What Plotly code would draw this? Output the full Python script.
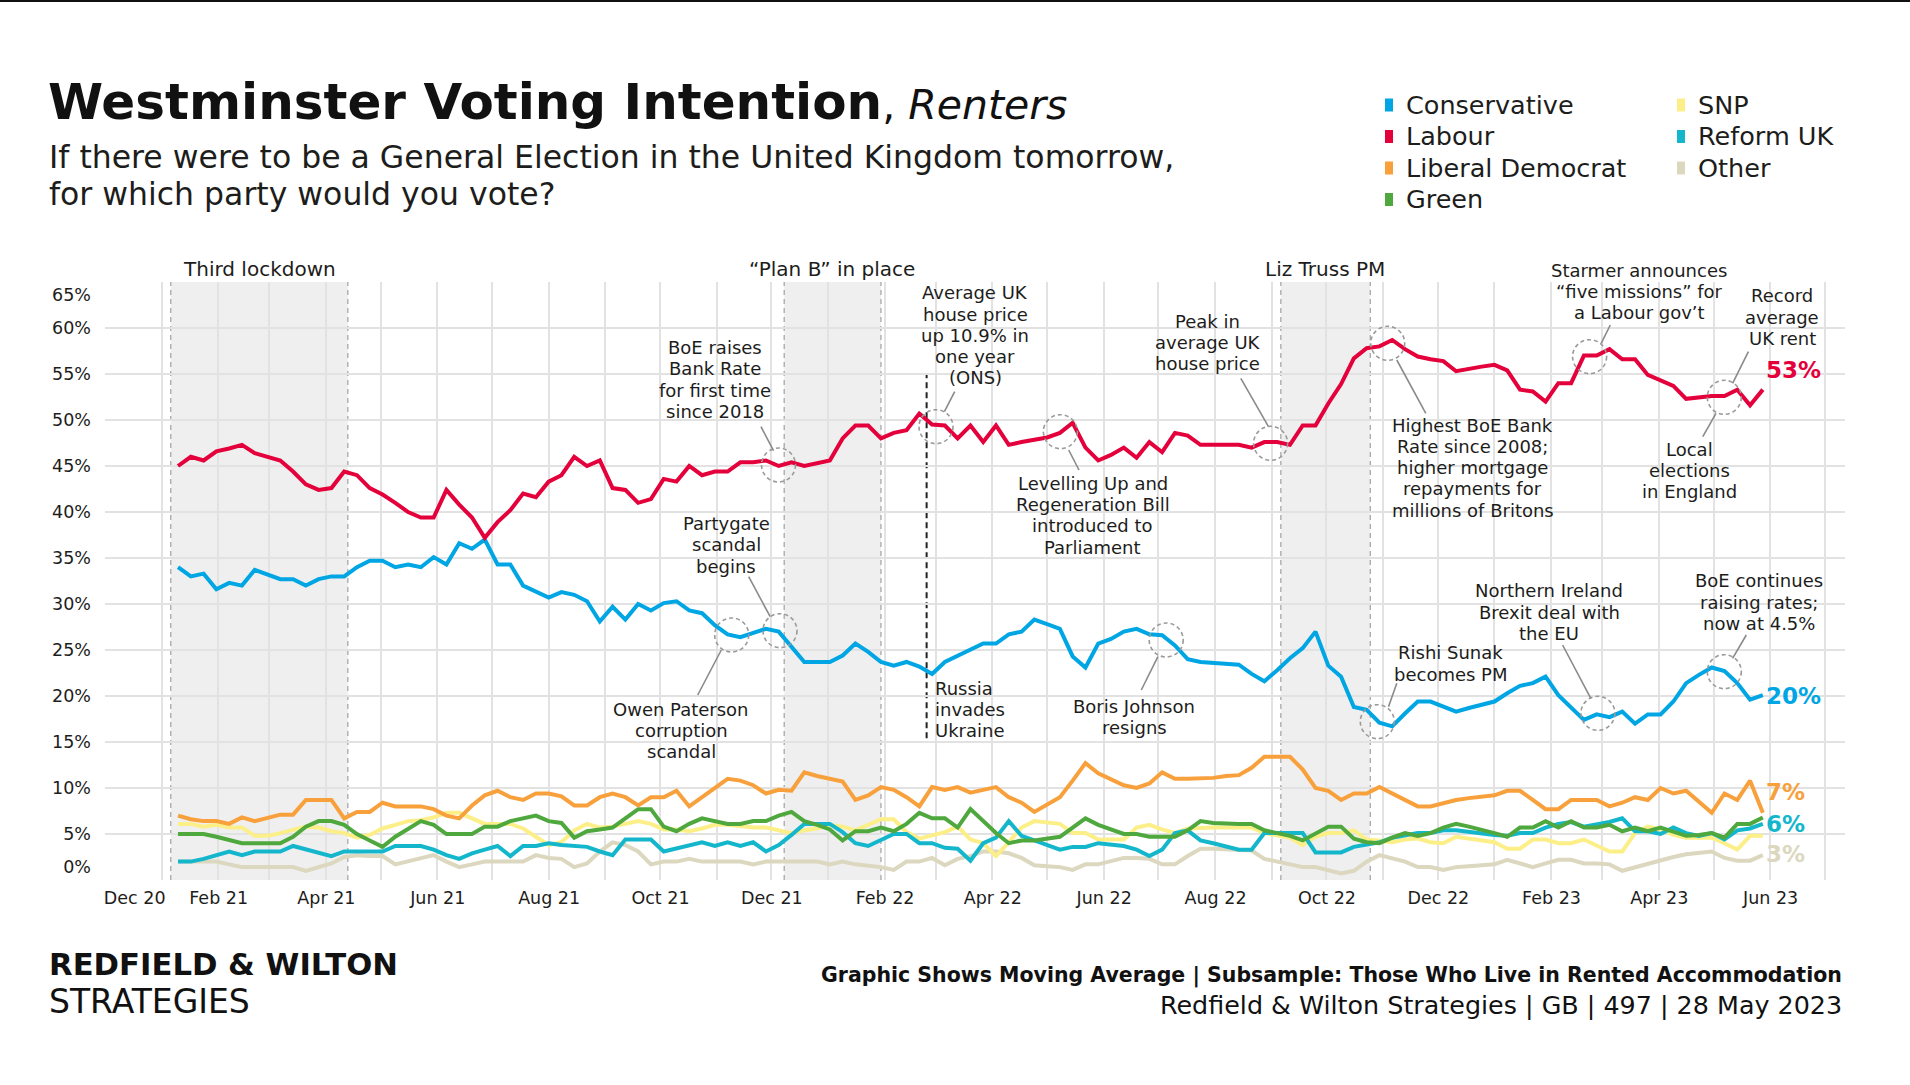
import plotly.graph_objects as go

FONT = "DejaVu Sans"
TXT = "#1d1d1b"
GRID = "#e2e2e2"

# ---------------- data (weekly moving average, %) ----------------
dates = [
    "2021-01-10", "2021-01-17", "2021-01-24", "2021-01-31", "2021-02-07", "2021-02-14", "2021-02-21", "2021-02-28",
    "2021-03-07", "2021-03-14", "2021-03-21", "2021-03-28", "2021-04-04", "2021-04-11", "2021-04-18", "2021-04-25",
    "2021-05-02", "2021-05-09", "2021-05-16", "2021-05-23", "2021-05-30", "2021-06-06", "2021-06-13", "2021-06-20",
    "2021-06-27", "2021-07-04", "2021-07-11", "2021-07-18", "2021-07-25", "2021-08-01", "2021-08-08", "2021-08-15",
    "2021-08-22", "2021-08-29", "2021-09-05", "2021-09-12", "2021-09-19", "2021-09-26", "2021-10-03", "2021-10-10",
    "2021-10-17", "2021-10-24", "2021-10-31", "2021-11-07", "2021-11-14", "2021-11-21", "2021-11-28", "2021-12-05",
    "2021-12-12", "2021-12-19", "2021-12-26",
    "2022-01-02", "2022-01-09", "2022-01-16", "2022-01-23", "2022-01-30", "2022-02-06", "2022-02-13", "2022-02-20",
    "2022-02-27", "2022-03-06", "2022-03-13", "2022-03-20", "2022-03-27", "2022-04-03", "2022-04-10", "2022-04-17",
    "2022-04-24", "2022-05-01", "2022-05-08", "2022-05-15", "2022-05-22", "2022-05-29", "2022-06-05", "2022-06-12",
    "2022-06-19", "2022-06-26", "2022-07-03", "2022-07-10", "2022-07-17", "2022-07-24", "2022-07-31", "2022-08-07",
    "2022-08-14", "2022-08-21", "2022-08-28", "2022-09-04", "2022-09-11", "2022-09-18", "2022-09-25", "2022-10-02",
    "2022-10-09", "2022-10-16", "2022-10-23", "2022-10-30", "2022-11-06", "2022-11-13", "2022-11-20", "2022-11-27",
    "2022-12-04", "2022-12-11", "2022-12-18", "2022-12-25",
    "2023-01-01", "2023-01-08", "2023-01-15", "2023-01-22", "2023-01-29", "2023-02-05", "2023-02-12", "2023-02-19",
    "2023-02-26", "2023-03-05", "2023-03-12", "2023-03-19", "2023-03-26", "2023-04-02", "2023-04-09", "2023-04-16",
    "2023-04-23", "2023-04-30", "2023-05-07", "2023-05-14", "2023-05-21", "2023-05-28",
]

labour = [
    45.0, 46.0, 45.6, 46.6, 46.9, 47.3, 46.4, 46.0, 45.6, 44.4,
    43.0, 42.4, 42.6, 44.4, 44.0, 42.6, 41.9, 41.0, 40.0, 39.4,
    39.4, 42.4, 40.8, 39.4, 37.2, 38.9, 40.2, 42.0, 41.6, 43.3,
    44.0, 46.0, 45.0, 45.6, 42.6, 42.4, 41.0, 41.4, 43.6, 43.3,
    45.0, 44.0, 44.4, 44.4, 45.4, 45.4, 45.6, 45.0, 45.4, 45.0,
    45.3, 45.6, 48.0, 49.4, 49.4, 48.0, 48.6, 48.9, 50.7, 49.5,
    49.4, 48.0, 49.4, 47.6, 49.4, 47.3, 47.6, 47.8, 48.1, 48.6,
    49.7, 47.0, 45.6, 46.2, 47.0, 45.9, 47.6, 46.5, 48.6, 48.3,
    47.3, 47.3, 47.3, 47.3, 47.0, 47.6, 47.6, 47.3, 49.4, 49.4,
    51.8, 53.9, 56.7, 57.8, 58.0, 58.7, 57.7, 56.9, 56.6, 56.4,
    55.3, 55.6, 55.8, 56.0, 55.4, 53.3, 53.1, 52.0, 54.0, 54.0,
    57.0, 57.0, 57.7, 56.6, 56.6, 54.9, 54.3, 53.7, 52.3, 52.5,
    52.6, 52.6, 53.3, 51.6, 53.3,
]

conservative = [
    34.0, 33.0, 33.3, 31.6, 32.3, 32.0, 33.7, 33.2, 32.7, 32.7,
    32.0, 32.7, 33.0, 33.0, 34.0, 34.7, 34.7, 34.0, 34.3, 34.0,
    35.1, 34.3, 36.6, 36.0, 37.0, 34.3, 34.3, 32.0, 31.3, 30.7,
    31.3, 31.0, 30.3, 28.1, 29.7, 28.3, 30.0, 29.3, 30.1, 30.3,
    29.3, 29.0, 27.7, 26.7, 26.4, 26.8, 27.3, 27.0, 25.4, 23.7,
    23.7, 23.7, 24.4, 25.7, 24.8, 23.7, 23.3, 23.7, 23.2, 22.4,
    23.7, 24.4, 25.0, 25.7, 25.7, 26.7, 27.0, 28.3, 27.8, 27.3,
    24.3, 23.1, 25.7, 26.2, 27.0, 27.3, 26.7, 26.6, 25.5, 24.0,
    23.7, 23.6, 23.5, 23.4, 22.4, 21.6, 22.8, 24.1, 25.2, 27.0,
    23.3, 22.1, 18.8, 18.5, 17.1, 16.7, 18.1, 19.4, 19.4, 18.8,
    18.3, 18.7, 19.0, 19.4, 20.3, 21.1, 21.4, 22.1, 20.1, 18.8,
    17.4, 18.0, 17.7, 18.3, 17.0, 18.0, 18.0, 19.4, 21.4, 22.3,
    23.1, 22.7, 21.4, 19.6, 20.1,
]

lib_dem = [
    7.0, 6.6, 6.4, 6.4, 6.1, 6.8, 6.4, 6.8, 7.1, 7.1,
    8.7, 8.7, 8.7, 6.7, 7.4, 7.4, 8.4, 8.0, 8.0, 8.0,
    7.7, 7.0, 6.7, 8.1, 9.2, 9.7, 9.0, 8.7, 9.4, 9.4,
    9.1, 8.1, 8.1, 9.0, 9.4, 9.0, 8.1, 9.0, 9.0, 9.7,
    8.0, 9.0, 10.1, 11.0, 10.8, 10.3, 9.4, 9.8, 9.7, 11.7,
    11.3, 11.0, 10.7, 8.7, 9.2, 10.1, 9.8, 9.0, 8.0, 10.1,
    9.8, 10.1, 9.5, 9.8, 10.1, 9.0, 8.4, 7.4, 8.2, 9.0,
    10.8, 12.7, 11.6, 10.9, 10.3, 10.0, 10.5, 11.7, 11.0, 11.0,
    11.0, 11.1, 11.3, 11.4, 12.2, 13.4, 13.4, 13.4, 12.0, 10.0,
    9.7, 8.7, 9.4, 9.4, 10.1, 9.4, 8.7, 8.0, 8.0, 8.4,
    8.7, 8.9, 9.0, 9.2, 9.7, 9.7, 8.7, 7.7, 7.7, 8.7,
    8.7, 8.7, 8.0, 8.4, 9.0, 8.7, 10.0, 9.4, 9.7, 8.5,
    7.3, 9.4, 8.7, 10.8, 7.3,
]

green = [
    5.0, 5.0, 5.0, 4.7, 4.3, 4.0, 4.0, 4.0, 4.0, 4.7,
    5.8, 6.4, 6.4, 6.0, 5.0, 4.3, 3.6, 4.7, 5.5, 6.4,
    6.0, 5.0, 5.0, 5.0, 5.8, 5.8, 6.4, 6.7, 7.0, 6.4,
    6.2, 4.6, 5.3, 5.5, 5.7, 6.7, 7.7, 7.7, 5.8, 5.3,
    6.1, 6.7, 6.4, 6.1, 6.1, 6.4, 6.4, 7.0, 7.4, 6.4,
    6.0, 5.5, 4.3, 5.3, 5.3, 5.7, 5.3, 6.1, 7.3, 6.7,
    6.7, 5.7, 7.7, 6.4, 5.1, 4.0, 4.3, 4.3, 4.5, 4.7,
    5.7, 6.7, 6.0, 5.5, 5.0, 5.0, 4.7, 4.7, 4.7, 5.4,
    6.4, 6.2, 6.1, 6.1, 6.1, 5.4, 5.1, 4.8, 4.3, 5.1,
    5.8, 5.8, 4.5, 4.1, 4.0, 4.6, 5.1, 4.8, 5.1, 5.7,
    6.1, 5.8, 5.5, 5.1, 4.7, 5.7, 5.7, 6.4, 5.7, 6.4,
    5.7, 5.7, 6.0, 5.3, 5.7, 5.3, 5.7, 5.3, 4.8, 4.9,
    5.1, 4.6, 6.1, 6.1, 6.8,
]

snp = [
    6.1, 6.1, 5.8, 6.0, 5.7, 5.7, 4.8, 4.8, 5.1, 5.4,
    5.8, 5.7, 5.3, 5.1, 4.6, 4.9, 5.6, 6.0, 6.4, 6.5,
    6.8, 7.3, 7.3, 6.7, 6.1, 6.1, 6.1, 5.6, 4.7, 3.8,
    4.1, 5.4, 6.1, 5.7, 5.8, 6.1, 6.4, 6.1, 5.5, 5.5,
    5.3, 5.6, 6.0, 6.0, 5.8, 5.7, 5.7, 5.4, 5.1, 5.4,
    5.6, 6.0, 5.8, 5.4, 6.0, 6.6, 6.6, 5.2, 4.5, 4.8,
    5.2, 5.8, 4.4, 4.0, 2.6, 4.1, 5.7, 6.4, 6.3, 6.1,
    5.1, 5.1, 4.4, 4.4, 4.4, 5.7, 6.0, 5.5, 5.1, 5.6,
    5.7, 5.7, 5.7, 5.7, 5.7, 5.1, 4.9, 4.6, 3.8, 4.7,
    5.1, 5.1, 5.4, 4.4, 4.3, 4.1, 4.4, 4.5, 4.1, 4.0,
    4.7, 4.5, 4.4, 4.1, 3.4, 3.4, 4.4, 4.4, 4.0, 4.0,
    4.4, 3.8, 3.1, 3.1, 5.1, 5.8, 5.5, 4.9, 4.6, 4.6,
    4.6, 4.0, 3.3, 4.8, 4.8,
]

reform = [
    2.0, 2.0, 2.3, 2.7, 3.1, 2.7, 3.1, 3.1, 3.1, 3.7,
    3.3, 3.0, 2.6, 3.1, 3.1, 3.1, 3.1, 3.7, 3.7, 3.7,
    3.3, 2.7, 2.3, 2.9, 3.3, 3.7, 2.6, 3.7, 3.7, 4.0,
    3.8, 3.7, 3.6, 3.1, 2.7, 4.4, 4.4, 4.4, 3.1, 3.4,
    3.8, 4.1, 3.7, 4.1, 3.7, 4.1, 3.1, 3.8, 4.9, 6.1,
    6.1, 6.1, 5.2, 4.0, 3.7, 4.3, 5.0, 5.0, 4.0, 4.0,
    3.5, 3.4, 2.1, 4.0, 4.6, 6.4, 4.8, 4.3, 3.8, 3.3,
    3.6, 3.6, 4.0, 3.9, 3.7, 3.3, 2.6, 3.3, 5.1, 5.4,
    4.3, 4.0, 3.6, 3.3, 3.3, 5.1, 5.1, 5.1, 5.1, 3.0,
    3.0, 3.0, 3.6, 3.9, 4.1, 4.6, 4.9, 5.1, 5.1, 5.4,
    5.4, 5.2, 5.1, 4.9, 4.8, 5.1, 5.1, 5.7, 6.1, 6.3,
    5.8, 6.0, 6.3, 6.7, 5.3, 5.3, 5.0, 5.7, 5.1, 4.8,
    5.1, 4.4, 5.4, 5.6, 6.1,
]

other = [
    2.0, 2.0, 2.0, 2.0, 1.7, 1.4, 1.4, 1.4, 1.4, 1.4,
    1.0, 1.4, 1.8, 2.5, 2.7, 2.6, 2.6, 1.7, 2.0, 2.4,
    2.7, 2.0, 1.4, 1.7, 2.0, 2.0, 2.0, 2.0, 2.7, 2.4,
    2.3, 1.4, 1.8, 3.1, 4.1, 3.8, 3.1, 1.7, 2.0, 2.0,
    2.3, 2.0, 2.0, 2.0, 2.0, 1.7, 2.0, 2.0, 2.0, 2.0,
    2.0, 1.7, 2.0, 1.7, 1.6, 1.4, 1.1, 2.0, 2.0, 2.4,
    1.6, 2.3, 2.6, 3.1, 3.1, 2.9, 2.4, 1.6, 1.5, 1.4,
    1.1, 1.7, 1.7, 2.0, 2.4, 2.4, 2.3, 1.7, 1.7, 2.6,
    3.4, 3.4, 3.3, 3.2, 3.2, 2.3, 2.0, 1.7, 1.4, 1.4,
    1.1, 0.7, 1.0, 2.0, 2.7, 2.3, 2.0, 1.4, 1.4, 1.1,
    1.4, 1.5, 1.6, 1.7, 2.2, 1.8, 1.4, 1.8, 2.2, 2.2,
    1.8, 1.8, 1.7, 1.0, 1.4, 1.8, 2.2, 2.5, 2.8, 2.9,
    3.1, 2.4, 2.1, 2.1, 2.7,
]

party_names = ["Conservative", "Labour", "Liberal Democrat", "Green", "SNP", "Reform UK", "Other"]
party_colors = ["#00a6e4", "#e4003b", "#f8a13c", "#4fa83d", "#fcef88", "#14b6cc", "#dcd7bf"]

xtick_dates = ["2020-12-17", "2021-02-01", "2021-04-01", "2021-06-01", "2021-08-01", "2021-10-01",
               "2021-12-01", "2022-02-01", "2022-04-01", "2022-06-01", "2022-08-01", "2022-10-01",
               "2022-12-01", "2023-02-01", "2023-04-01", "2023-06-01"]
xtick_text = ["Dec 20", "Feb 21", "Apr 21", "Jun 21", "Aug 21", "Oct 21", "Dec 21", "Feb 22",
              "Apr 22", "Jun 22", "Aug 22", "Oct 22", "Dec 22", "Feb 23", "Apr 23", "Jun 23"]
ytick_vals = [1.4, 5, 10, 15, 20, 25, 30, 35, 40, 45, 50, 55, 60, 63.6]
ytick_text = ["0%", "5%", "10%", "15%", "20%", "25%", "30%", "35%", "40%", "45%", "50%", "55%", "60%", "65%"]

# shaded periods
periods = [("Third lockdown", "2021-01-06", "2021-04-13"),
           ("\u201cPlan B\u201d in place", "2021-12-08", "2022-01-30"),
           ("Liz Truss PM", "2022-09-06", "2022-10-25")]
russia_date = "2022-02-24"

# ---------------- geometry helpers (pixels -> paper) ----------------
L, T, W, H = 105, 282, 1740, 598
FW, FH = 1910, 1085


def PX(x):
    return (x - L) / W


def PY(y):
    return (T + H - y) / H


fig = go.Figure()

draw_order = ["Other", "SNP", "Reform UK", "Green", "Liberal Democrat", "Conservative", "Labour"]
values = {"Conservative": conservative, "Labour": labour, "Liberal Democrat": lib_dem, "Green": green,
          "SNP": snp, "Reform UK": reform, "Other": other}
color_of = dict(zip(party_names, party_colors))
for name in draw_order:
    fig.add_trace(go.Scatter(x=dates, y=values[name], mode="lines", name=name,
                             line=dict(color=color_of[name], width=4), hoverinfo="skip",
                             showlegend=False))

shapes = []
annots = []

# top rule
shapes.append(dict(type="rect", xref="paper", yref="paper", x0=PX(0), x1=PX(FW), y0=PY(2), y1=PY(0),
                   fillcolor="#111111", line=dict(width=0), layer="above"))

for label, a, b in periods:
    shapes.append(dict(type="rect", xref="x", yref="y", x0=a, x1=b, y0=0, y1=65,
                       fillcolor="#efefef", line=dict(width=0), layer="below"))
    for d in (a, b):
        shapes.append(dict(type="line", xref="x", yref="y", x0=d, x1=d, y0=0, y1=65,
                           line=dict(color="#a8a8a8", width=1.3, dash="5px,4px"), layer="below"))

shapes.append(dict(type="line", xref="x", yref="y", x0=russia_date, x1=russia_date, y0=15.4, y1=55.1,
                   line=dict(color="#222222", width=2, dash="6px,4px"), layer="below"))


def text_block(lines, cx, cy, size=18, color=TXT, anchor="center", spacing=21.3, bold=False):
    for k, line in enumerate(lines):
        t = "<b>%s</b>" % line if bold else line
        annots.append(dict(xref="paper", yref="paper", x=PX(cx), y=PY(cy + k * spacing), text=t,
                           showarrow=False, xanchor=anchor, yanchor="middle", borderpad=0,
                           font=dict(family=FONT, size=size, color=color)))


def circle(cx, cy, r=17):
    shapes.append(dict(type="circle", xref="paper", yref="paper", x0=PX(cx - r), x1=PX(cx + r),
                       y0=PY(cy + r), y1=PY(cy - r), line=dict(color="#9a9a9a", width=1.6, dash="4px,3px"),
                       layer="above"))


def leader(x0, y0, x1, y1):
    shapes.append(dict(type="line", xref="paper", yref="paper", x0=PX(x0), x1=PX(x1), y0=PY(y0), y1=PY(y1),
                       line=dict(color="#8a8a8a", width=1.6), layer="above"))


# period labels
text_block(["Third lockdown"], 259, 269, size=20)
text_block(["\u201cPlan B\u201d in place"], 832, 269, size=20)
text_block(["Liz Truss PM"], 1325, 269, size=20)

# event notes
text_block(["BoE raises", "Bank Rate", "for first time", "since 2018"], 715, 347.5)
circle(778.5, 465); leader(761, 426.7, 773.5, 450.7)

text_block(["Partygate", "scandal", "begins"], 726, 523.5)
circle(780, 630.7); leader(748.7, 576.7, 770.2, 616.7)

text_block(["Owen Paterson", "corruption", "scandal"], 681, 709)
circle(731.7, 635); leader(721.3, 650, 697.7, 695)

text_block(["Average UK", "house price", "up 10.9% in", "one year", "(ONS)"], 975.4, 292.7)
circle(936, 426.7); leader(954.7, 391.7, 944.4, 411.7)

text_block(["Peak in", "average UK", "house price"], 1207.6, 321)
circle(1270.6, 443.3); leader(1240.8, 378.3, 1268.5, 426.7)

text_block(["Levelling Up and", "Regeneration Bill", "introduced to", "Parliament"], 1092.8, 483.3)
circle(1060.4, 431.7); leader(1068.7, 450, 1079, 470)

text_block(["Russia", "invades", "Ukraine"], 934, 688.3, anchor="left")

text_block(["Boris Johnson", "resigns"], 1134.2, 706)
circle(1166.2, 640); leader(1157.9, 656.7, 1141.3, 690)

text_block(["Highest BoE Bank", "Rate since 2008;", "higher mortgage", "repayments for", "millions of Britons"],
           1472.7, 425)
circle(1387.7, 343.3); leader(1396.8, 360, 1425.8, 413.3)

text_block(["Starmer announces", "\u201cfive missions\u201d for", "a Labour gov\u2019t"], 1639.3, 270)
circle(1589.6, 356.7); leader(1610.3, 325, 1601.2, 343.3)

text_block(["Record", "average", "UK rent"], 1782.4, 295.7)
leader(1748.4, 351.7, 1732.6, 383.3)

text_block(["Local", "elections", "in England"], 1689, 449.3)
circle(1724.3, 397.3); leader(1716, 413.3, 1702.8, 436.7)

text_block(["Rishi Sunak", "becomes PM"], 1450.7, 652.7)
circle(1377.3, 721.7); leader(1388.5, 706.7, 1396.8, 683.3)

text_block(["Northern Ireland", "Brexit deal with", "the EU"], 1549, 590.7)
circle(1597.9, 713.3); leader(1562.6, 645, 1590.8, 698.3)

text_block(["BoE continues", "raising rates;", "now at 4.5%"], 1758.7, 580.7)
circle(1724.3, 671.7); leader(1746.3, 635, 1732.6, 658.3)

# end-of-line labels (value from last data point)
end_labels = [("Labour", 370), ("Conservative", 696), ("Liberal Democrat", 792), ("Reform UK", 824), ("Other", 854)]
for name, ypx in end_labels:
    text_block(["%d%%" % round(values[name][-1])], 1765, ypx, size=23, color=color_of[name], anchor="left",
               bold=True)

# legend (manual, two columns)
legend_cols = [(1389, ["Conservative", "Labour", "Liberal Democrat", "Green"]),
               (1681, ["SNP", "Reform UK", "Other"])]
rows_y = [104.5, 136, 167.5, 199]
for mx, names in legend_cols:
    for k, name in enumerate(names):
        y = rows_y[k]
        shapes.append(dict(type="rect", xref="paper", yref="paper", x0=PX(mx - 4), x1=PX(mx + 4),
                           y0=PY(y + 7), y1=PY(y - 6), fillcolor=color_of[name], line=dict(width=0),
                           layer="above"))
        text_block([name], mx + 16, y, size=25.5, anchor="left")

# title & subtitle
annots.append(dict(xref="paper", yref="paper", x=PX(47), y=PY(102), xanchor="left", yanchor="middle",
                   showarrow=False, borderpad=0,
                   text="<b>Westminster Voting Intention</b><span style='font-size:41px'>, <i>Renters</i></span>",
                   font=dict(family=FONT, size=50, color="#111111")))
text_block(["If there were to be a General Election in the United Kingdom tomorrow,"], 48, 156.5, size=31.5,
           anchor="left")
text_block(["for which party would you vote?"], 48, 194, size=31.5, anchor="left")

# footer
text_block(["REDFIELD & WILTON"], 48, 964, size=30.7, anchor="left", bold=True, color="#111111")
text_block(["STRATEGIES"], 48, 1001.5, size=33, anchor="left", color="#111111")
text_block(["Graphic Shows Moving Average | Subsample: Those Who Live in Rented Accommodation"], 1843, 976,
           size=20.5, anchor="right", bold=True, color="#111111")
text_block(["Redfield & Wilton Strategies | GB | 497 | 28 May 2023"], 1843, 1005, size=25.4, anchor="right",
           color="#111111")

fig.update_layout(
    width=FW, height=FH,
    margin=dict(l=L, r=FW - L - W, t=T, b=FH - T - H, pad=0),
    paper_bgcolor="white", plot_bgcolor="white",
    showlegend=False,
    font=dict(family=FONT, color=TXT),
    shapes=shapes, annotations=annots,
    xaxis=dict(type="date", range=["2020-12-01", "2023-07-12"], showgrid=False, zeroline=False, showline=False,
               tickmode="array", tickvals=[d + " 06:00" for d in xtick_dates], ticktext=xtick_text, ticks="",
               tickfont=dict(family=FONT, size=17.5, color=TXT), ticklabelstandoff=5,
               minor=dict(tickmode="linear", dtick="M1", tick0="2020-12-01", showgrid=True, gridcolor=GRID,
                          gridwidth=1.5, ticks=""),
               fixedrange=True),
    yaxis=dict(range=[0, 65], showgrid=False, zeroline=False, showline=False,
               tickmode="array", tickvals=[v + 0.01 for v in ytick_vals], ticktext=ytick_text, ticks="",
               tickfont=dict(family=FONT, size=17.5, color=TXT), ticklabelstandoff=13,
               minor=dict(tickmode="linear", dtick=5, tick0=0, showgrid=True, gridcolor=GRID, gridwidth=1.5,
                          ticks=""),
               fixedrange=True),
)

fig.write_html("out.html")
